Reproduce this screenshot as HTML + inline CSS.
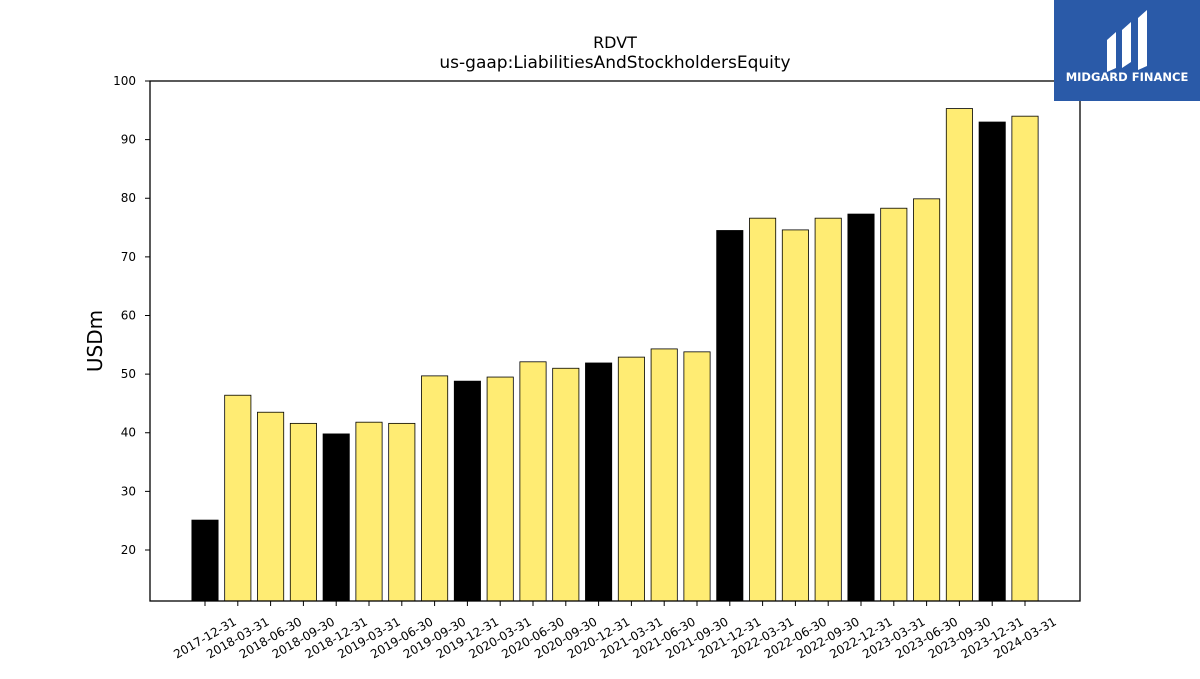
<!DOCTYPE html>
<html><head><meta charset="utf-8"><style>
body{margin:0;background:#fff;font-family:"DejaVu Sans","Liberation Sans",sans-serif}
svg text{font-family:"DejaVu Sans","Liberation Sans",sans-serif}
</style></head><body>
<svg width="1200" height="675" xmlns="http://www.w3.org/2000/svg">
<text x="615" y="48" text-anchor="middle" font-size="16">RDVT</text>
<text x="615" y="68" text-anchor="middle" font-size="17">us-gaap:LiabilitiesAndStockholdersEquity</text>
<text transform="translate(102,341) rotate(-90)" text-anchor="middle" font-size="20">USDm</text>
<g id="bars"></g><g id="yt"></g><g id="xt"></g>
<rect x="150" y="81" width="930" height="520" fill="none" stroke="#000" stroke-width="1.3"/>
<g>
<rect x="1054" y="0" width="146" height="101" fill="#2a5aa8"/>
<path d="M1107 40 L1116 32 L1116 68 L1107 72 Z M1122 30 L1131 22 L1131 62 L1122 68 Z M1138 18 L1147 10 L1147 66 L1138 70 Z" fill="#fff"/>
<text x="1127" y="81" text-anchor="middle" font-size="11.5" font-weight="bold" fill="#fff">MIDGARD FINANCE</text>
</g>
</svg>
<script>
const categories=["2017-12-31","2018-03-31","2018-06-30","2018-09-30","2018-12-31","2019-03-31","2019-06-30","2019-09-30","2019-12-31","2020-03-31","2020-06-30","2020-09-30","2020-12-31","2021-03-31","2021-06-30","2021-09-30","2021-12-31","2022-03-31","2022-06-30","2022-09-30","2022-12-31","2023-03-31","2023-06-30","2023-09-30","2023-12-31","2024-03-31"];
const values=[25.1,46.4,43.5,41.6,39.8,41.8,41.6,49.7,48.8,49.5,52.1,51.0,51.9,52.9,54.3,53.8,74.5,76.6,74.6,76.6,77.3,78.3,79.9,95.3,93.0,94.0];
const yTicks=[20,30,40,50,60,70,80,90,100];
const NS="http://www.w3.org/2000/svg";
const yMin=11.3,yMax=100,topY=81,bot=601;
function y(v){return bot-(v-yMin)/(yMax-yMin)*(bot-topY);}
const step=820/(categories.length-1);
function x(i){return 205+i*step;}
const bw=step*0.8;
const gb=document.getElementById('bars'),gy=document.getElementById('yt'),gx=document.getElementById('xt');
values.forEach((v,i)=>{
 const r=document.createElementNS(NS,'rect');
 r.setAttribute('x',x(i)-bw/2);r.setAttribute('y',y(v));r.setAttribute('width',bw);r.setAttribute('height',bot-y(v));
 r.setAttribute('fill',categories[i].endsWith('12-31')?'#000':'#ffec73');r.setAttribute('stroke','#000');r.setAttribute('stroke-width','0.8');
 
 
 gb.appendChild(r);
 const t=document.createElementNS(NS,'line');
 t.setAttribute('x1',x(i));t.setAttribute('x2',x(i));t.setAttribute('y1',bot);t.setAttribute('y2',bot+5);t.setAttribute('stroke','#000');
 gx.appendChild(t);
 const l=document.createElementNS(NS,'text');
 const lx=x(i),ly=bot+41;
 l.setAttribute('x',lx);l.setAttribute('y',ly);l.setAttribute('font-size','12');l.setAttribute('text-anchor','middle');
 l.setAttribute('transform','rotate(-30 '+lx+' '+(ly-4)+')');
 l.textContent=categories[i];
 
 
 gx.appendChild(l);
});
yTicks.forEach(v=>{
 const t=document.createElementNS(NS,'line');
 t.setAttribute('x1',145);t.setAttribute('x2',150);t.setAttribute('y1',y(v));t.setAttribute('y2',y(v));t.setAttribute('stroke','#000');
 gy.appendChild(t);
 const l=document.createElementNS(NS,'text');
 l.setAttribute('x',136);l.setAttribute('y',y(v)+4);l.setAttribute('font-size','12');l.setAttribute('text-anchor','end');
 l.textContent=v;
 
 
 gy.appendChild(l);
});
</script>
</body></html>
